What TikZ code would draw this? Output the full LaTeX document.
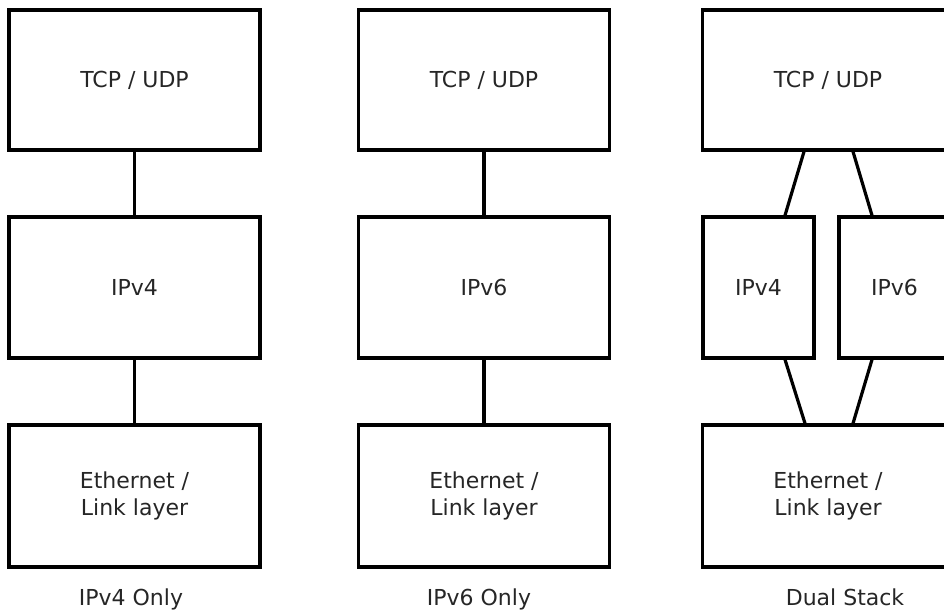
\documentclass[tikz,border=0pt]{standalone}
\usepackage{fontspec}
\setmainfont{DejaVu Sans}
\begin{document}
\begin{tikzpicture}[x=1pt,y=-1pt,
  layer/.style={draw=black, line width=3.2pt, rectangle, inner sep=0pt,
    align=center, text=black!85, font=\fontsize{22}{27}\selectfont},
  wide/.style={layer, minimum width=251pt},
  narrow/.style={layer, minimum width=111pt},
  link/.style={line width=3.2pt, draw=black},
  caption/.style={text=black!85, font=\fontsize{22}{27}\selectfont, inner sep=0pt, anchor=base}]
\useasboundingbox (0,0) rectangle (944,612);
\clip (0,0) rectangle (944,612);
\fill[white] (0,0) rectangle (944,612);

% IPv4-only stack
\node[wide, minimum height=140pt] (t1) at (134.5,80) {TCP / UDP};
\node[wide, minimum height=141pt] (m1) at (134.5,287.5) {IPv4};
\node[wide, minimum height=142pt] (b1) at (134.5,496) {Ethernet /\\Link layer};
\draw[link] (t1.south) -- (m1.north);
\draw[link] (m1.south) -- (b1.north);
\node[caption] (c1) at (131,605) {IPv4 Only};

% IPv6-only stack
\node[wide, minimum height=140pt] (t2) at (484,80) {TCP / UDP};
\node[wide, minimum height=141pt] (m2) at (484,287.5) {IPv6};
\node[wide, minimum height=142pt] (b2) at (484,496) {Ethernet /\\Link layer};
\draw[link] (t2.south) -- (m2.north);
\draw[link] (m2.south) -- (b2.north);
\node[caption] (c2) at (479,605) {IPv6 Only};

% Dual stack
\node[wide, minimum height=140pt] (t3) at (828,80) {TCP / UDP};
\node[narrow, minimum height=141pt] (m3a) at (758.5,287.5) {IPv4};
\node[narrow, minimum height=141pt] (m3b) at (894.5,287.5) {IPv6};
\node[wide, minimum height=142pt] (b3) at (828,496) {Ethernet /\\Link layer};
\draw[link] ([xshift=-24pt]t3.south) -- ([xshift=26.5pt]m3a.north);
\draw[link] ([xshift=25pt]t3.south) -- ([xshift=-22.5pt]m3b.north);
\draw[link] ([xshift=26.5pt]m3a.south) -- ([xshift=-23pt]b3.north);
\draw[link] ([xshift=-22.5pt]m3b.south) -- ([xshift=25pt]b3.north);
\node[caption] (c3) at (845,605) {Dual Stack};
\end{tikzpicture}
\end{document}
